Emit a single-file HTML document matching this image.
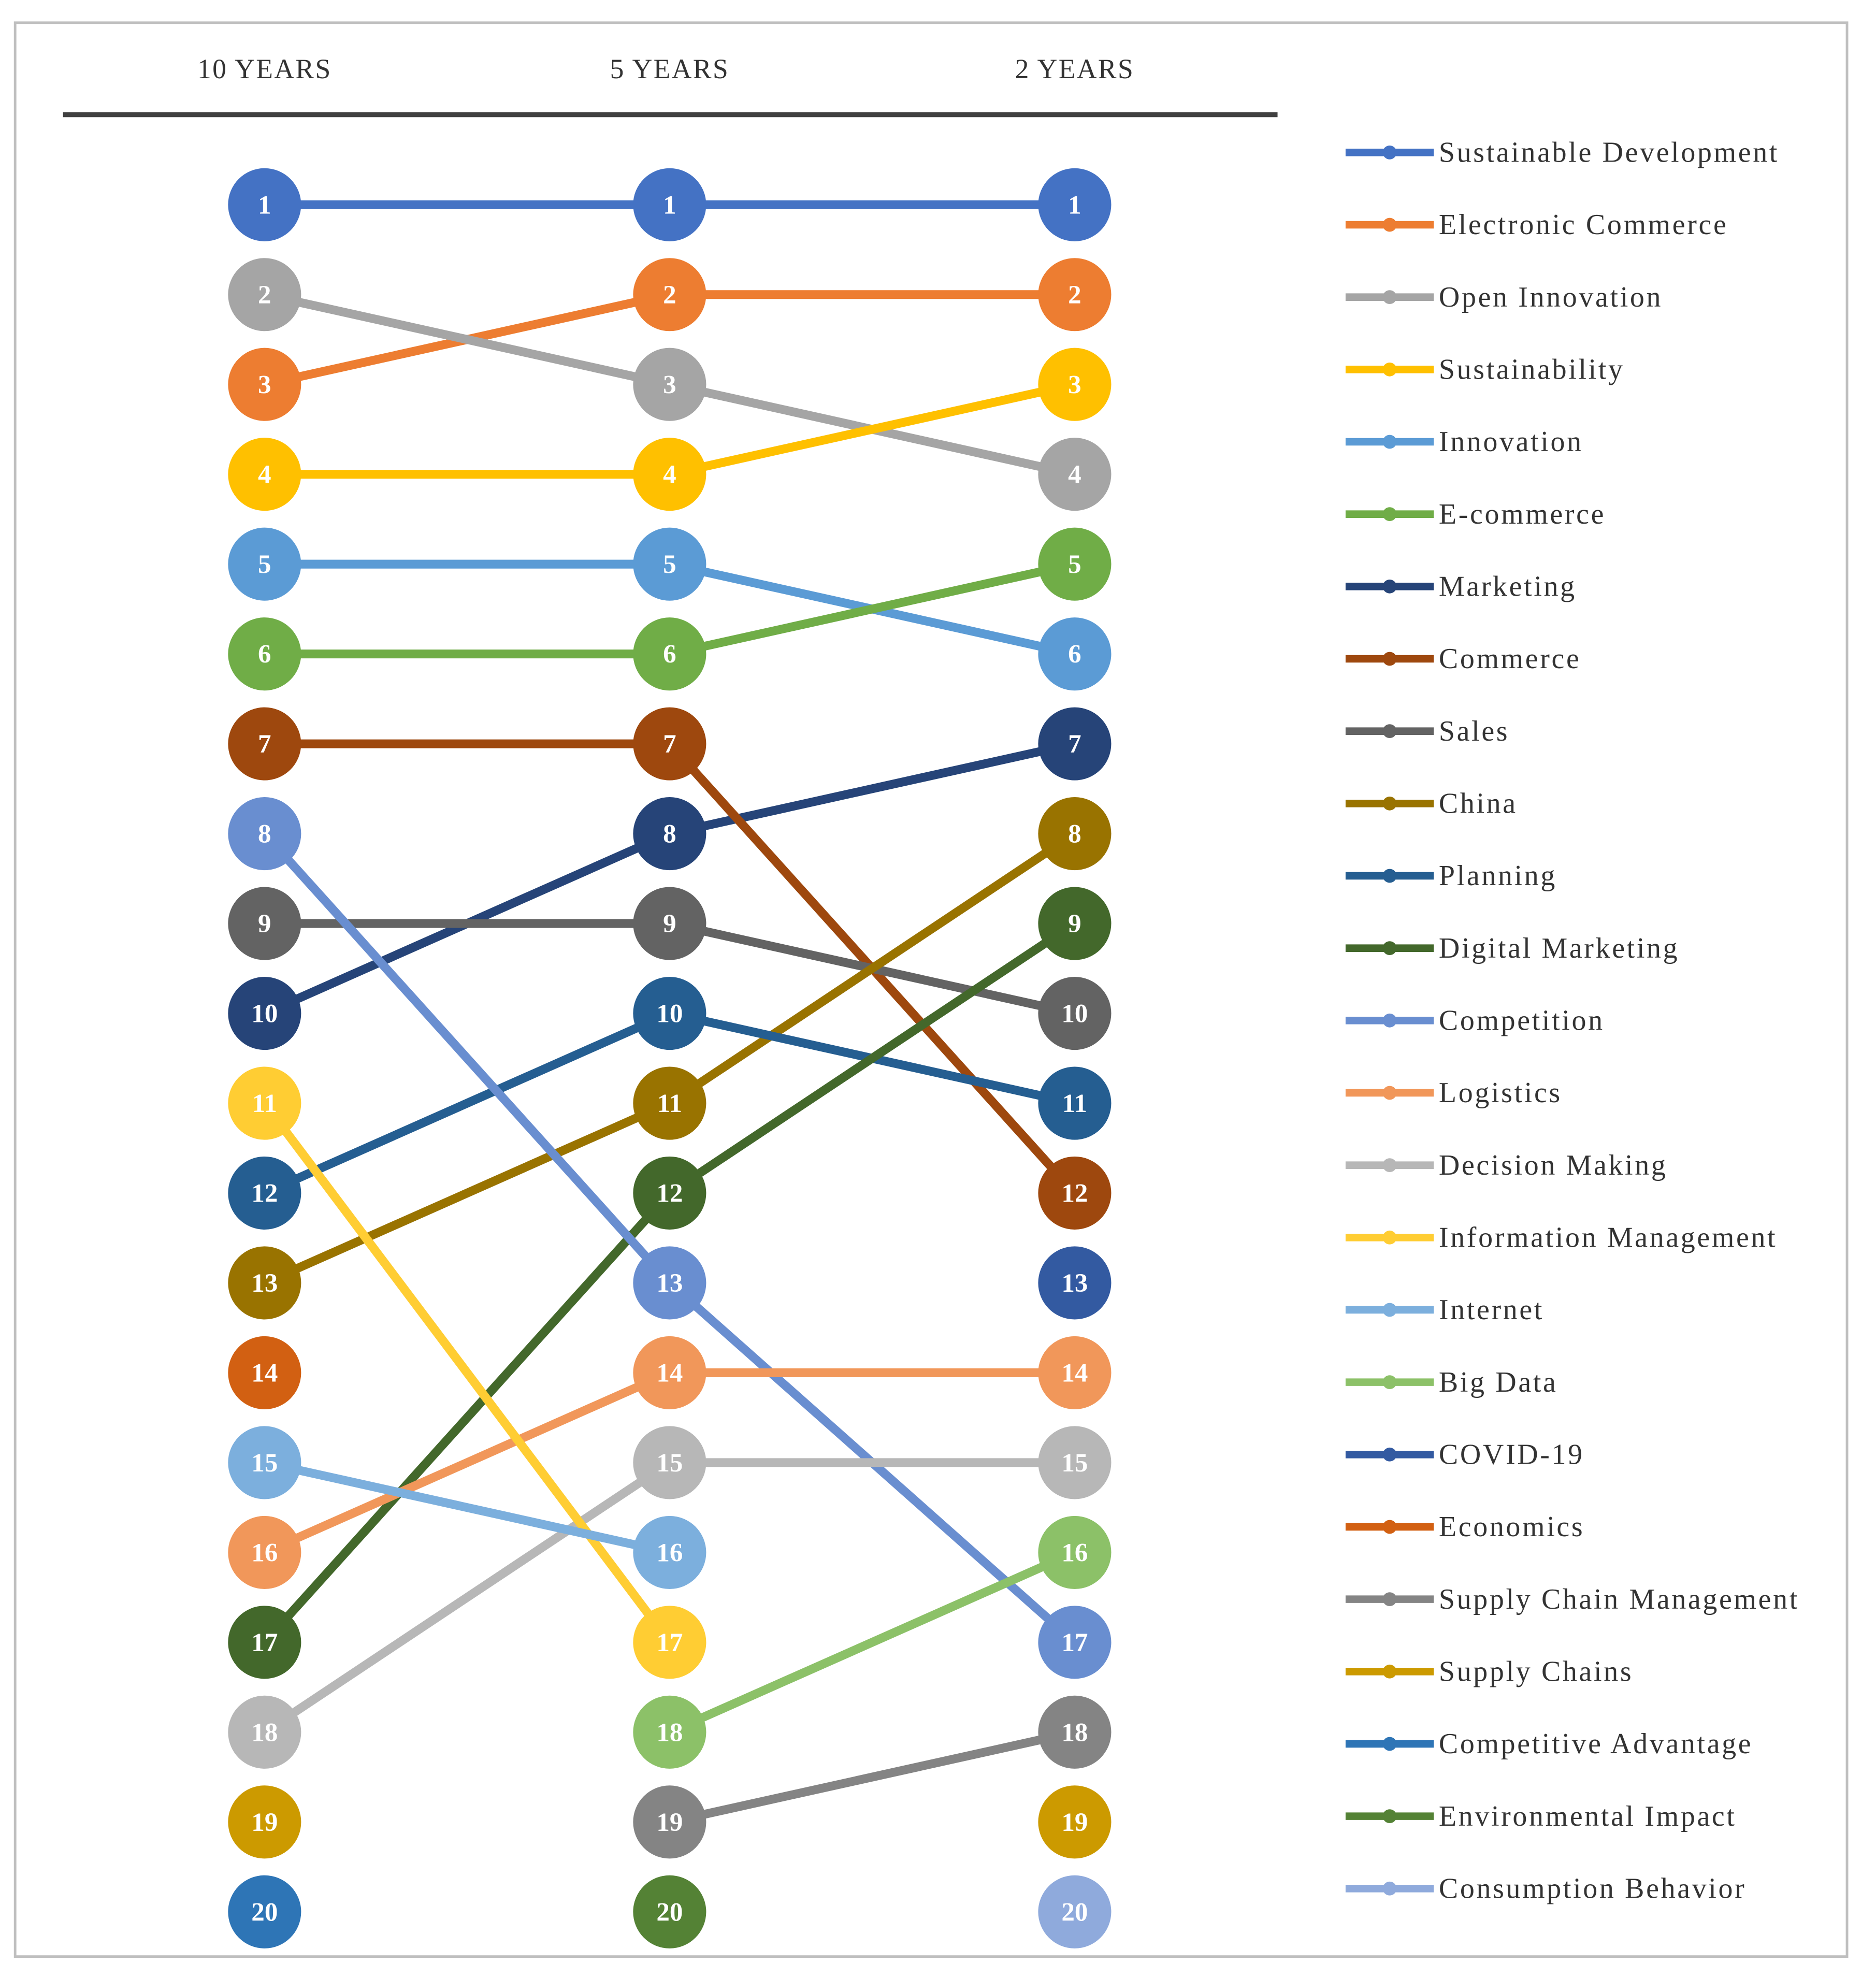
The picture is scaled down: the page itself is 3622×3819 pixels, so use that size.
<!DOCTYPE html>
<html><head><meta charset="utf-8"><style>
html,body{margin:0;padding:0;background:#fff;}
svg{display:block;}
text{font-family:"Liberation Serif",serif;}
</style></head><body>
<svg id="chart" width="3622" height="3819" viewBox="0 0 1489 1570" xmlns="http://www.w3.org/2000/svg">
<rect x="12" y="18" width="1454" height="1535" fill="#fff" stroke="#bfbfbf" stroke-width="2"/>
<g id="headers"></g>
<line x1="50" y1="91" x2="1014" y2="91" stroke="#404040" stroke-width="4"/>
<g id="lines"></g>
<g id="dots"></g>
<g id="legend"></g>
</svg>
<script>
const periods = ["10 YEARS","5 YEARS","2 YEARS"];
const names = ["Sustainable Development","Electronic Commerce","Open Innovation","Sustainability","Innovation","E-commerce","Marketing","Commerce","Sales","China","Planning","Digital Marketing","Competition","Logistics","Decision Making","Information Management","Internet","Big Data","COVID-19","Economics","Supply Chain Management","Supply Chains","Competitive Advantage","Environmental Impact","Consumption Behavior"];
const colors = ["#4472C4","#ED7D31","#A5A5A5","#FFC000","#5B9BD5","#70AD47","#264478","#9E480E","#636363","#997300","#255E91","#43682B","#698ED0","#F1975A","#B7B7B7","#FFCD33","#7CAFDD","#8CC168","#335AA1","#D26012","#848484","#CC9A00","#2E75B6","#548235","#8FAADC"];
const rank10 = [1,3,2,4,5,6,10,7,9,13,12,17,8,16,18,11,15,null,null,14,null,19,20,null,null];
const rank5  = [1,2,3,4,5,6,8,7,9,11,10,12,13,14,15,17,16,18,null,null,19,null,null,20,null];
const rank2  = [1,2,4,3,6,5,7,12,10,8,11,9,17,14,15,null,null,16,13,null,18,19,null,null,20];
const ranks=[rank10,rank5,rank2];
const NS="http://www.w3.org/2000/svg";
const xCol=i=>210+i*321.5;
const yRank=r=>162.5+(r-1)*(1517.5-162.5)/19;
function mk(t,a){const e=document.createElementNS(NS,t);for(const k in a)e.setAttribute(k,a[k]);return e;}
const H=document.getElementById('headers'),L=document.getElementById('lines'),D=document.getElementById('dots'),G=document.getElementById('legend');
periods.forEach((p,i)=>{const t=mk('text',{x:xCol(i),y:62,'text-anchor':'middle','font-size':22,'letter-spacing':1,fill:'#333'});


t.textContent=p;H.appendChild(t);});
names.forEach((n,s)=>{
 for(let c=0;c<2;c++){const a=ranks[c][s],b=ranks[c+1][s];if(a==null||b==null)continue;
  const l=mk('line',{x1:xCol(c),y1:yRank(a),x2:xCol(c+1),y2:yRank(b),stroke:colors[s],'stroke-width':7});
  
  
  L.appendChild(l);}
 for(let c=0;c<3;c++){const r=ranks[c][s];if(r==null)continue;
  const g=mk('g',{});
  
  
  g.appendChild(mk('circle',{cx:xCol(c),cy:yRank(r),r:29,fill:colors[s]}));
  const t=mk('text',{x:xCol(c),y:yRank(r)+7,'text-anchor':'middle','font-size':21,'font-weight':'bold',fill:'#fff'});t.textContent=r;g.appendChild(t);
  D.appendChild(g);}
 const y=121+s*(1499-121)/24;
 const g=mk('g',{});
 
 
 g.appendChild(mk('line',{x1:1068,y1:y,x2:1138,y2:y,stroke:colors[s],'stroke-width':6}));
 g.appendChild(mk('circle',{cx:1103,cy:y,r:5.5,fill:colors[s]}));
 const t=mk('text',{x:1142,y:y+7.5,'font-size':23,'letter-spacing':1.5,fill:'#333'});t.textContent=n;g.appendChild(t);
 G.appendChild(g);
});
</script>
</body></html>
